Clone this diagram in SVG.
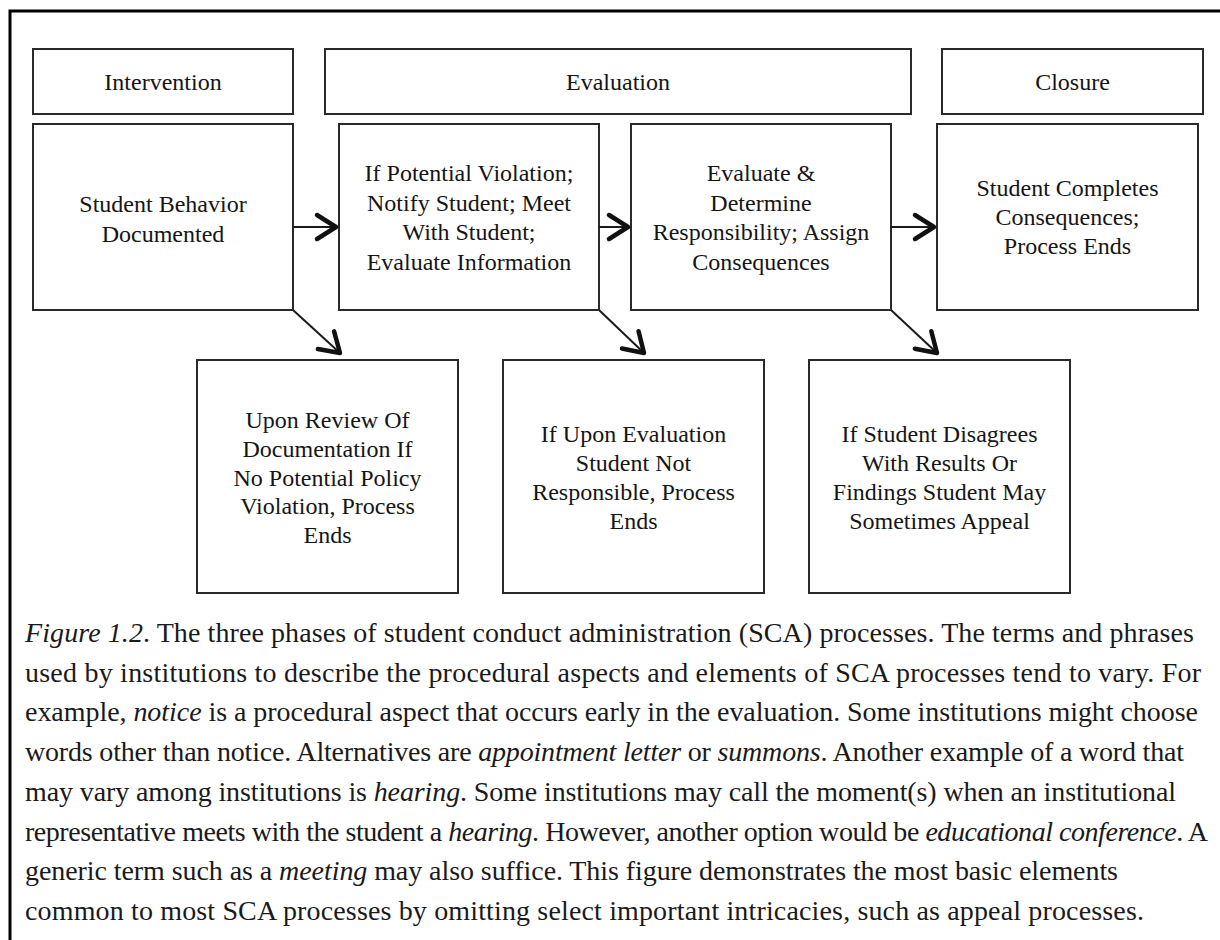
<svg xmlns="http://www.w3.org/2000/svg" width="1220" height="940" viewBox="0 0 1220 940">
<style>
.box{fill:#fff;stroke:#2a2a2a;stroke-width:2}
.t{font-family:"Liberation Serif","Times New Roman",serif;font-size:24px;fill:#151515;text-anchor:middle}
.cap{font-family:"Liberation Serif","Times New Roman",serif;font-size:28px;fill:#1a1a1a}
.it{font-style:italic}
.ln{stroke:#1a1a1a;stroke-width:2;fill:none}
</style>
<defs>
<marker id="ah" viewBox="-26 -16 30 32" refX="0" refY="0" markerWidth="30" markerHeight="32" markerUnits="userSpaceOnUse" orient="auto">
<path d="M-19,-12 L0,0 L-19,12" fill="none" stroke="#111" stroke-width="4.5" stroke-linecap="round" stroke-linejoin="round"/>
</marker>
</defs>
<rect width="1220" height="940" fill="#fff"/>
<path d="M10,942 V11 H1222" fill="none" stroke="#000" stroke-width="3"/>

<g id="h-intervention"><rect class="box" x="33" y="49" width="260" height="65"/><text class="t" x="163" y="90">Intervention</text></g>
<g id="h-evaluation"><rect class="box" x="325" y="49" width="586" height="65"/><text class="t" x="618" y="90">Evaluation</text></g>
<g id="h-closure"><rect class="box" x="942" y="49" width="261" height="65"/><text class="t" x="1072.5" y="90">Closure</text></g>

<g id="n1"><rect class="box" x="33" y="124" width="260" height="186"/>
<text class="t" x="163" y="212">Student Behavior</text><text class="t" x="163" y="242">Documented</text></g>
<g id="n2"><rect class="box" x="339" y="124" width="260" height="186"/>
<text class="t" x="469" y="181">If Potential Violation;</text><text class="t" x="469" y="210.5">Notify Student; Meet</text><text class="t" x="469" y="240">With Student;</text><text class="t" x="469" y="269.5">Evaluate Information</text></g>
<g id="n3"><rect class="box" x="631" y="124" width="260" height="186"/>
<text class="t" x="761" y="181">Evaluate &amp;</text><text class="t" x="761" y="210.5">Determine</text><text class="t" x="761" y="240">Responsibility; Assign</text><text class="t" x="761" y="269.5">Consequences</text></g>
<g id="n4"><rect class="box" x="937" y="124" width="261" height="186"/>
<text class="t" x="1067.5" y="196">Student Completes</text><text class="t" x="1067.5" y="225">Consequences;</text><text class="t" x="1067.5" y="254">Process Ends</text></g>

<g id="n5"><rect class="box" x="197" y="360" width="261" height="233"/>
<text class="t" x="327.5" y="428">Upon Review Of</text><text class="t" x="327.5" y="457">Documentation If</text><text class="t" x="327.5" y="485.5">No Potential Policy</text><text class="t" x="327.5" y="514">Violation, Process</text><text class="t" x="327.5" y="543">Ends</text></g>
<g id="n6"><rect class="box" x="503" y="360" width="261" height="233"/>
<text class="t" x="633.5" y="442">If Upon Evaluation</text><text class="t" x="633.5" y="471">Student Not</text><text class="t" x="633.5" y="500">Responsible, Process</text><text class="t" x="633.5" y="529">Ends</text></g>
<g id="n7"><rect class="box" x="809" y="360" width="261" height="233"/>
<text class="t" x="939.5" y="442">If Student Disagrees</text><text class="t" x="939.5" y="471">With Results Or</text><text class="t" x="939.5" y="500">Findings Student May</text><text class="t" x="939.5" y="529">Sometimes Appeal</text></g>

<g id="connectors">
<line class="ln" x1="293" y1="227" x2="336" y2="227" marker-end="url(#ah)"/>
<line class="ln" x1="599" y1="227" x2="628" y2="227" marker-end="url(#ah)"/>
<line class="ln" x1="891" y1="227" x2="934" y2="227" marker-end="url(#ah)"/>
<line class="ln" x1="293" y1="310" x2="340" y2="353" marker-end="url(#ah)"/>
<line class="ln" x1="599" y1="310" x2="644" y2="353" marker-end="url(#ah)"/>
<line class="ln" x1="891" y1="310" x2="937" y2="353" marker-end="url(#ah)"/>
</g>

<g id="caption">
<text class="cap" x="25" y="642" textLength="1169" lengthAdjust="spacing"><tspan class="it">Figure 1.2</tspan>. The three phases of student conduct administration (SCA) processes. The terms and phrases</text>
<text class="cap" x="25" y="682" textLength="1176" lengthAdjust="spacing">used by institutions to describe the procedural aspects and elements of SCA processes tend to vary. For</text>
<text class="cap" x="25" y="721" textLength="1173" lengthAdjust="spacing">example, <tspan class="it">notice</tspan> is a procedural aspect that occurs early in the evaluation. Some institutions might choose</text>
<text class="cap" x="25" y="761" textLength="1159" lengthAdjust="spacing">words other than notice. Alternatives are <tspan class="it">appointment letter</tspan> or <tspan class="it">summons</tspan>.  Another example of a word that</text>
<text class="cap" x="25" y="801" textLength="1151" lengthAdjust="spacing">may vary among institutions is <tspan class="it">hearing</tspan>. Some institutions may call the moment(s) when an institutional</text>
<text class="cap" x="25" y="841" textLength="1183" lengthAdjust="spacing">representative meets with the student a <tspan class="it">hearing</tspan>. However, another option would be <tspan class="it">educational conference</tspan>. A</text>
<text class="cap" x="25" y="880" textLength="1093" lengthAdjust="spacing">generic term such as a <tspan class="it">meeting</tspan> may also suffice. This figure demonstrates the most basic elements</text>
<text class="cap" x="25" y="920" textLength="1119" lengthAdjust="spacing">common to most SCA processes by omitting select important intricacies, such as appeal processes.</text>
</g>
</svg>
